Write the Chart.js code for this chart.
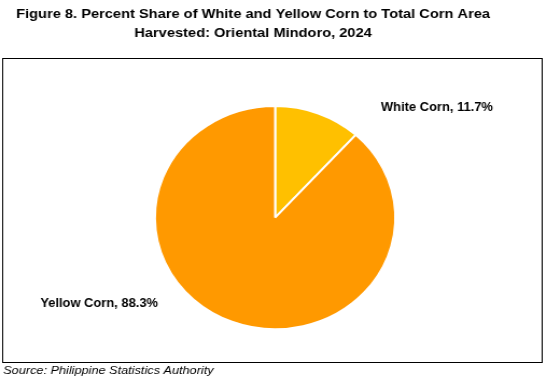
<!DOCTYPE html>
<html>
<head>
<meta charset="utf-8">
<script src="https://cdn.jsdelivr.net/npm/chart.js@4.4.1/dist/chart.umd.min.js"></script>
<style>
  html, body { margin: 0; padding: 0; background: #fff; overflow: hidden; }
  #wrap { width: 508px; height: 382px; transform: scaleX(1.0768); transform-origin: 0 0; }
</style>
</head>
<body>
<div id="wrap"><canvas id="chart" width="508" height="382"></canvas></div>
<script>
'use strict';

const categories = ['White Corn', 'Yellow Corn'];
const shares = [11.7, 88.3];
const sliceColors = ['#FFC000', '#FF9900'];
const titleLines = ['Figure 8. Percent Share of White and Yellow Corn to Total Corn Area', 'Harvested: Oriental Mindoro, 2024'];
const sourceText = 'Source: Philippine Statistics Authority';

// label offsets relative to pie centre, in units of radius (left edge, middle)
const labelOffsets = [[0.88, -0.985], [-1.954, 0.77]];

const FONT = 'Liberation Sans, Arial, sans-serif';

// frame around the plot and the two-line heading (heading sits left of centre)
const frameBox = {
    id: 'frameBox',
    beforeDraw(chart) {
        const c = chart.ctx;
        c.save();
        c.strokeStyle = '#000';
        c.lineWidth = 1;
        c.strokeRect(2.5, 58.5, 501, 304);
        c.font = 'bold 13.6px ' + FONT;
        c.fillStyle = '#000';
        c.textAlign = 'center';
        c.textBaseline = 'middle';
        titleLines.forEach((t, i) => c.fillText(t, 235, 14 + i * 19));
        c.restore();
    }
};

const sliceLabels = {
    id: 'sliceLabels',
    afterDatasetsDraw(chart) {
        const c = chart.ctx;
        const meta = chart.getDatasetMeta(0);
        c.save();
        c.font = 'bold 12px ' + FONT;
        c.fillStyle = '#000';
        c.textAlign = 'left';
        c.textBaseline = 'middle';
        meta.data.forEach((arc, i) => {
            const r = arc.outerRadius;
            const off = labelOffsets[i];
            c.fillText(categories[i] + ', ' + shares[i].toFixed(1) + '%', arc.x + off[0] * r, arc.y + off[1] * r);
        });
        c.restore();
    }
};

const ctx = document.getElementById('chart').getContext('2d');

new Chart(ctx, {
    type: 'pie',
    data: {
        labels: categories,
        datasets: [{
            data: shares,
            backgroundColor: sliceColors,
            borderColor: '#fff',
            borderWidth: 2
        }]
    },
    options: {
        responsive: false,
        animation: false,
        layout: { padding: { left: 3, right: 0, top: 105, bottom: 0 } },
        plugins: {
            legend: { display: false },
            tooltip: { enabled: false },
            title: { display: false },
            subtitle: {
                display: true,
                position: 'bottom',
                align: 'start',
                text: sourceText,
                color: '#000',
                font: { family: FONT, size: 11.8, style: 'italic', weight: 'normal', lineHeight: 1.2 },
                padding: { top: 33.8, bottom: 3.8 }
            }
        }
    },
    plugins: [frameBox, sliceLabels]
});
</script>
</body>
</html>
